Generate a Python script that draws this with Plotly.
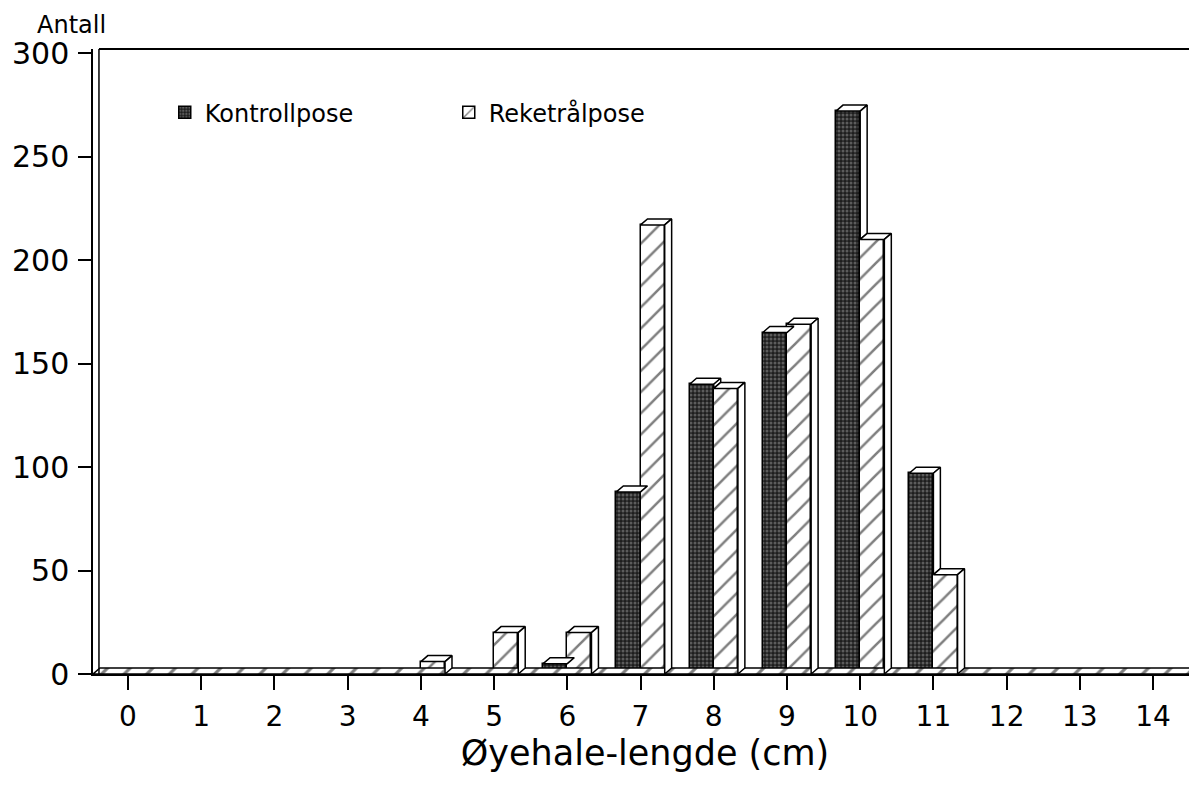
import plotly.graph_objects as go

categories = list(range(15))
kontroll = [0, 0, 0, 0, 0, 0, 5, 88, 140, 165, 272, 97, 0, 0, 0]
reketral = [0, 0, 0, 0, 6, 20, 20, 217, 138, 169, 210, 48, 0, 0, 0]
y_ticks = [0, 50, 100, 150, 200, 250, 300]

W = 0.33      # bar width (category units)
DX = 0.095    # 3D depth in x
DY = 2.9      # 3D depth in y
XMIN, XMAX = -0.478, 14.60
YMAX = 302
FONT = "DejaVu Sans"

fig = go.Figure()

# floor slab (3D base)
fig.add_trace(go.Scatter(
    x=[XMIN, XMAX, XMAX, XMIN + DX, XMIN], y=[0, 0, DY, DY, 0],
    mode="lines", fill="toself", fillcolor="white",
    fillpattern=dict(shape="/", fgcolor="black", bgcolor="white", size=16, solidity=0.2),
    line=dict(color="black", width=1.5), showlegend=False, hoverinfo="skip"))

# front faces
fig.add_trace(go.Bar(
    x=categories, y=kontroll, offset=-W, width=W, name="Kontrollpose",
    marker=dict(color="#1e1e1e", line=dict(color="black", width=1.5),
                pattern=dict(shape=".", fgcolor="#9a9a9a", bgcolor="#1e1e1e", size=4, solidity=0.45))))
fig.add_trace(go.Bar(
    x=categories, y=reketral, offset=0, width=W, name="Reketrålpose",
    marker=dict(color="white", line=dict(color="black", width=1.5),
                pattern=dict(shape="/", fgcolor="black", bgcolor="white", size=15, solidity=0.17))))

def poly(xs, ys):
    fig.add_trace(go.Scatter(x=xs, y=ys, mode="lines", fill="toself", fillcolor="white",
                             line=dict(color="black", width=1.5), showlegend=False,
                             hoverinfo="skip"))

# 3D caps and sides for Kontrollpose (side hidden behind Reketrål bars)
for xc, c, r in zip(categories, kontroll, reketral):
    if c <= 0:
        continue
    x0, x1 = xc - W, xc
    poly([x0, x0 + DX, x1 + DX, x1, x0], [c, c + DY, c + DY, c, c])
    if c > r:
        lo = r
        poly([x1, x1, x1 + DX, x1 + DX, x1], [lo, c, c + DY, lo + DY, lo])

# 3D caps and sides for Reketrålpose
for xc, r in zip(categories, reketral):
    if r <= 0:
        continue
    x0, x1 = xc, xc + W
    poly([x0, x0 + DX, x1 + DX, x1, x0], [r, r + DY, r + DY, r, r])
    poly([x1, x1, x1 + DX, x1 + DX, x1], [0, r, r + DY, DY, 0])

# page body has an 8px margin: figure is sized/offset to compensate
fig.update_layout(
    width=1189, height=784,
    margin=dict(l=85, r=0, t=41, b=118),
    paper_bgcolor="white", plot_bgcolor="white",
    barmode="overlay", bargap=0,
    font=dict(family=FONT, color="black"),
    legend=dict(orientation="h", x=0.065, y=0.934, xanchor="left", yanchor="top",
                font=dict(size=24, family=FONT), bgcolor="rgba(0,0,0,0)",
                entrywidth=239, traceorder="normal"),
    xaxis=dict(range=[XMIN, XMAX], tickvals=categories, ticktext=[str(c) for c in categories],
               showgrid=False, zeroline=False, showline=True, linecolor="black", linewidth=1.5,
               ticks="outside", ticklen=14, tickwidth=1.5, tickcolor="black", automargin=False,
               tickfont=dict(size=28, family=FONT), ticklabelstandoff=3,
               title=dict(text="Øyehale-lengde (cm)", font=dict(size=35, family=FONT), standoff=0)),
    yaxis=dict(range=[0, YMAX], tickvals=y_ticks, showgrid=False, zeroline=False,
               showline=True, linecolor="black", linewidth=1.5, automargin=False,
               ticks="outside", ticklen=13, tickwidth=1.5, tickcolor="black",
               tickfont=dict(size=30, family=FONT), ticklabelstandoff=3),
    annotations=[dict(text="Antall", xref="paper", yref="paper", x=-0.0525, y=1.0,
                      xanchor="left", yanchor="bottom", yshift=8, showarrow=False,
                      font=dict(size=24, family=FONT))],
    shapes=[
        dict(type="line", xref="paper", yref="paper", x0=0.0054, x1=0.0054, y0=0, y1=1,
             line=dict(color="black", width=1.5)),
        dict(type="line", xref="paper", yref="paper", x0=0.0054, x1=1, y0=1, y1=1,
             line=dict(color="black", width=2)),
        dict(type="line", xref="paper", yref="paper", x0=0.999, x1=0.999, y0=0, y1=1,
             line=dict(color="black", width=1.5)),
    ],
)

fig.write_html("out.html")
